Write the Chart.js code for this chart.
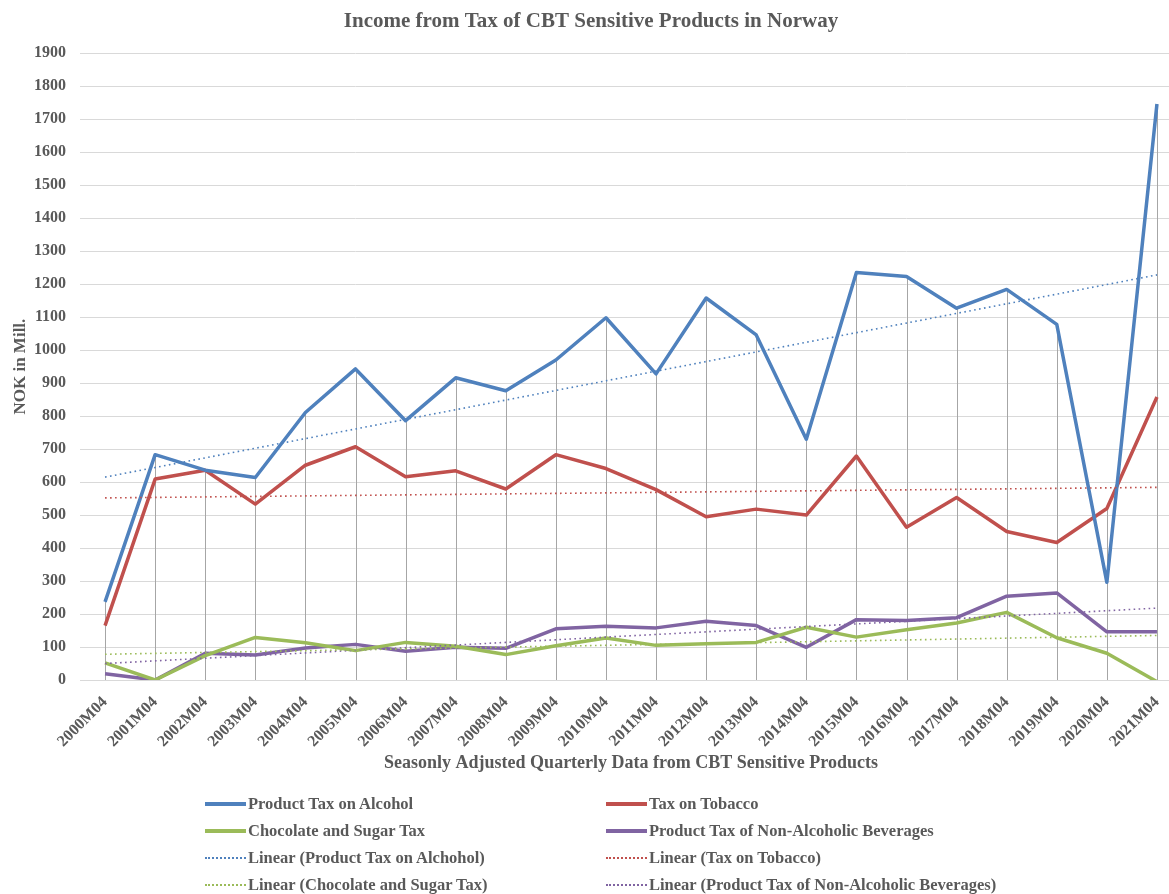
<!DOCTYPE html>
<html>
<head>
<meta charset="utf-8">
<script src="https://cdn.jsdelivr.net/npm/chart.js@4.4.1/dist/chart.umd.min.js"></script>
<style>
  html, body { margin: 0; padding: 0; background: #fff; overflow: hidden; }
  #wrap { position: absolute; left: 0; top: 0; width: 1190px; height: 894px; }
  #legend { position: absolute; left: 0; top: 0; width: 1169px; height: 894px; pointer-events: none;
    font-family: "Liberation Serif", "Times New Roman", serif; font-weight: bold; font-size: 16.5px; color: #595959; }
  .item { position: absolute; display: flex; align-items: center; height: 20px; white-space: nowrap; }
  .swatch { width: 41px; height: 0; margin-right: 2px; }
</style>
</head>
<body>
<div id="wrap"><canvas id="taxChart"></canvas></div>
<div id="legend"></div>
<script>
// data (NOK in Mill.)
var quarterLabels = ['2000M04', '2001M04', '2002M04', '2003M04', '2004M04', '2005M04', '2006M04',
  '2007M04', '2008M04', '2009M04', '2010M04', '2011M04', '2012M04', '2013M04', '2014M04',
  '2015M04', '2016M04', '2017M04', '2018M04', '2019M04', '2020M04', '2021M04'];

var alcoholTax = [237, 683, 636, 614, 811, 943, 786, 916, 877, 970, 1098, 928, 1158, 1046, 730,
  1235, 1223, 1127, 1184, 1078, 296, 1746];
var tobaccoTax = [165, 609, 636, 533, 651, 707, 616, 634, 579, 683, 641, 577, 495, 518, 500,
  679, 463, 553, 450, 417, 520, 858];
var sugarTax = [52, 0, 74, 129, 113, 89, 114, 102, 77, 104, 127, 105, 110, 114, 160,
  130, 152, 173, 205, 128, 81, -5];
var beverageTax = [19, 0, 81, 76, 97, 108, 87, 99, 96, 155, 163, 158, 178, 165, 99,
  183, 180, 189, 254, 264, 146, 146];

// trend line ends (first and last quarter)
var alcoholTrendEnds = [615, 1228];
var tobaccoTrendEnds = [552, 584];
var sugarTrendEnds = [78, 135];
var beverageTrendEnds = [50, 218];

var seriesNames = ['Product Tax on Alcohol', 'Tax on Tobacco', 'Chocolate and Sugar Tax',
  'Product Tax of Non-Alcoholic Beverages'];
var trendNames = ['Linear (Product Tax on Alchohol)', 'Linear (Tax on Tobacco)',
  'Linear (Chocolate and Sugar Tax)', 'Linear (Product Tax of Non-Alcoholic Beverages)'];
var seriesColors = ['#4f81bd', '#c0504d', '#9bbb59', '#8064a2'];

var textColor = '#595959';
var fontFamily = '"Liberation Serif", "Times New Roman", serif';

function trendData(ends) {
  return [
    { x: quarterLabels[0], y: ends[0] },
    { x: quarterLabels[quarterLabels.length - 1], y: ends[1] }
  ];
}

var seriesValues = [alcoholTax, tobaccoTax, sugarTax, beverageTax];
var trendValues = [alcoholTrendEnds, tobaccoTrendEnds, sugarTrendEnds, beverageTrendEnds];

var datasets = [];
for (var i = 0; i < 4; i++) {
  datasets.push({
    label: seriesNames[i],
    data: seriesValues[i],
    borderColor: seriesColors[i],
    backgroundColor: seriesColors[i],
    borderWidth: 3.5,
    pointRadius: 0,
    tension: 0,
    borderJoinStyle: 'round',
    fill: false,
    order: 2
  });
}
for (var i = 0; i < 4; i++) {
  datasets.push({
    label: trendNames[i],
    data: trendData(trendValues[i]),
    borderColor: seriesColors[i],
    backgroundColor: seriesColors[i],
    borderWidth: 1.6,
    borderDash: [1.6, 3.4],
    pointRadius: 0,
    tension: 0,
    fill: false,
    order: 1
  });
}

// excel style drop lines from the highest point to the axis
var dropLines = {
  id: 'dropLines',
  beforeDatasetsDraw: function(chart) {
    var ctx = chart.ctx;
    var xScale = chart.scales.x;
    var yScale = chart.scales.y;
    ctx.save();
    ctx.strokeStyle = '#a6a6a6';
    ctx.lineWidth = 1;
    for (var i = 0; i < quarterLabels.length; i++) {
      var top = Math.max(alcoholTax[i], tobaccoTax[i], sugarTax[i], beverageTax[i]);
      var x = Math.round(xScale.getPixelForValue(i)) + 0.5;
      ctx.beginPath();
      ctx.moveTo(x, yScale.getPixelForValue(0));
      ctx.lineTo(x, yScale.getPixelForValue(top));
      ctx.stroke();
    }
    ctx.restore();
  }
};

var ctx = document.getElementById('taxChart');
var taxChart = new Chart(ctx, {
  type: 'line',
  data: {
    labels: quarterLabels,
    datasets: datasets
  },
  plugins: [dropLines],
  options: {
    responsive: true,
    maintainAspectRatio: false,
    animation: false,
    layout: { padding: { left: 0, right: 8, top: 0, bottom: 114 } },
    plugins: {
      legend: { display: false },
      tooltip: { enabled: false },
      title: {
        display: true,
        text: 'Income from Tax of CBT Sensitive Products in Norway',
        color: textColor,
        font: { family: fontFamily, size: 21, weight: 'bold' },
        padding: { top: 9, bottom: 19 }
      }
    },
    scales: {
      x: {
        offset: true,
        grid: { display: false },
        border: { display: true, color: '#d9d9d9', width: 1 },
        ticks: {
          color: textColor,
          font: { family: fontFamily, size: 16, weight: 'bold' },
          minRotation: 45,
          maxRotation: 45,
          autoSkip: false,
          padding: 5
        },
        title: {
          display: true,
          text: 'Seasonly Adjusted Quarterly Data from CBT Sensitive Products',
          color: textColor,
          font: { family: fontFamily, size: 18, weight: 'bold' },
          padding: { top: 0, bottom: 6 }
        },
        afterFit: function(scale) { scale.height = 100; }
      },
      y: {
        min: 0,
        max: 1900,
        grid: { color: '#d9d9d9', lineWidth: 1, drawTicks: false },
        border: { display: false },
        ticks: {
          stepSize: 100,
          color: textColor,
          font: { family: fontFamily, size: 16, weight: 'bold' },
          padding: 14,
          callback: function(value) { return String(value); }
        },
        title: {
          display: true,
          text: 'NOK in Mill.',
          color: textColor,
          font: { family: fontFamily, size: 17, weight: 'bold' },
          padding: { top: 10, bottom: 0 }
        },
        afterFit: function(scale) { scale.width = 80; }
      }
    }
  }
});

// legend in two columns like the excel one
var legendDiv = document.getElementById('legend');
var legendCols = [205, 606];
var legendRows = [804, 831, 858, 885];
var legendItems = [];
for (var i = 0; i < 4; i++) legendItems.push({ name: seriesNames[i], color: seriesColors[i], dotted: false });
for (var i = 0; i < 4; i++) legendItems.push({ name: trendNames[i], color: seriesColors[i], dotted: true });
legendItems.forEach(function(item, k) {
  var el = document.createElement('div');
  el.className = 'item';
  el.style.left = legendCols[k % 2] + 'px';
  el.style.top = (legendRows[Math.floor(k / 2)] - 10) + 'px';
  var sw = document.createElement('span');
  sw.className = 'swatch';
  sw.style.borderTop = item.dotted ? ('2px dotted ' + item.color) : ('4px solid ' + item.color);
  var tx = document.createElement('span');
  tx.textContent = item.name;
  el.appendChild(sw);
  el.appendChild(tx);
  legendDiv.appendChild(el);
});
</script>
</body>
</html>
